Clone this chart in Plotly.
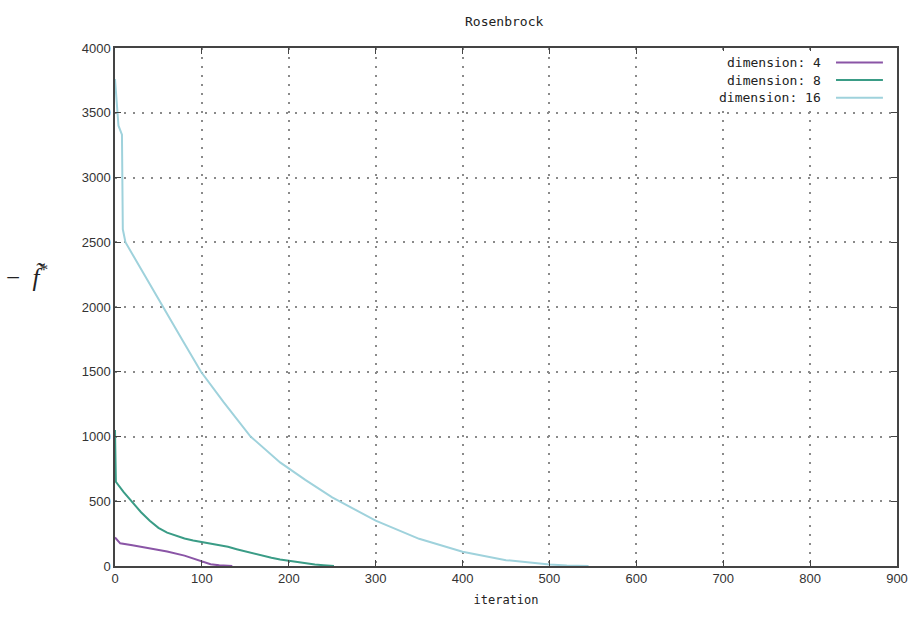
import plotly.graph_objects as go

# ---- data ----
series_names = ["dimension: 4", "dimension: 8", "dimension: 16"]
series_colors = ["#8a55a6", "#3a9c86", "#9fd2dc"]

iter_d4 = [0, 2, 4, 6, 20, 40, 60, 80, 90, 100, 110, 120, 128, 135]
val_d4 = [220, 205, 185, 175, 160, 138, 112, 80, 58, 32, 14, 5, 2, 0]

iter_d8 = [0, 0.5, 1, 10, 20, 30, 40, 50, 60, 70, 80, 90, 100, 110, 120, 130, 140,
           150, 160, 170, 180, 190, 200, 210, 220, 230, 240, 252]
val_d8 = [1050, 900, 650, 570, 490, 415, 350, 295, 258, 232, 212, 197, 186, 175, 162,
          148, 130, 112, 95, 78, 63, 50, 40, 30, 20, 12, 6, 0]

iter_d16 = [0, 2, 4, 8, 9, 12, 30, 55, 78, 99, 125, 156, 190, 219, 250, 300, 350, 400,
            450, 500, 520, 545]
val_d16 = [3760, 3550, 3400, 3330, 2600, 2500, 2290, 2000, 1740, 1500, 1265, 1000,
           800, 665, 530, 350, 210, 110, 45, 12, 4, 0]

x_ticks = [0, 100, 200, 300, 400, 500, 600, 700, 800, 900]
y_ticks = [0, 500, 1000, 1500, 2000, 2500, 3000, 3500, 4000]

title_text = "Rosenbrock"
x_title = "iteration"

mono = "DejaVu Sans Mono"
sans = "Liberation Sans"

fig = go.Figure()
xs = [iter_d4, iter_d8, iter_d16]
ys = [val_d4, val_d8, val_d16]
for name, col, x, y in zip(series_names, series_colors, xs, ys):
    fig.add_trace(go.Scatter(x=x, y=y, mode="lines", name=name,
                             line=dict(color=col, width=2), showlegend=False))

axis_common = dict(showline=True, linecolor="#444", linewidth=1.5, mirror="allticks",
                   ticks="inside", ticklen=6, tickcolor="#444", tickwidth=1.2,
                   showgrid=True, gridcolor="#8a8a8a", griddash="2px,7px", gridwidth=1.6,
                   zeroline=False, tickfont=dict(family=sans, size=13, color="#333"))

fig.update_xaxes(range=[0, 900], tickvals=x_ticks, **axis_common)
fig.update_yaxes(range=[0, 4000], tickvals=y_ticks, **axis_common)

# opaque key box behind the legend entries (covers grid only; no data there)
fig.add_shape(type="rect", xref="paper", yref="paper", x0=0.765, x1=0.997,
              y0=0.89, y1=0.994, fillcolor="white", line=dict(width=0), layer="above")

# manual gnuplot-style legend (text right, line sample on the right)
for i, (name, col) in enumerate(zip(series_names, series_colors)):
    yp = 0.972 - i * 0.034
    fig.add_annotation(xref="paper", yref="paper", x=0.905, y=yp, text=name,
                       showarrow=False, xanchor="right", yanchor="middle",
                       font=dict(family=mono, size=13, color="#222"))
    fig.add_shape(type="line", xref="paper", yref="paper", x0=0.922, x1=0.982,
                  y0=yp, y1=yp, line=dict(color=col, width=2), layer="above")

fig.add_annotation(xref="paper", yref="paper", x=-0.112, y=0.562,
                   text="−  <i>f̃</i><sup>*</sup>", showarrow=False,
                   xanchor="center", yanchor="middle",
                   font=dict(family="Liberation Serif", size=25, color="#222"))

fig.update_layout(
    width=920, height=617,
    margin=dict(l=115, r=18, t=48, b=51),
    paper_bgcolor="white", plot_bgcolor="white",
    title=dict(text=title_text, x=0.548, xanchor="center", y=0.965, yanchor="middle",
               font=dict(family=mono, size=13, color="#222")),
    xaxis_title=dict(text=x_title, font=dict(family=mono, size=12, color="#222"), standoff=10),
)

fig.write_html("out.html")
